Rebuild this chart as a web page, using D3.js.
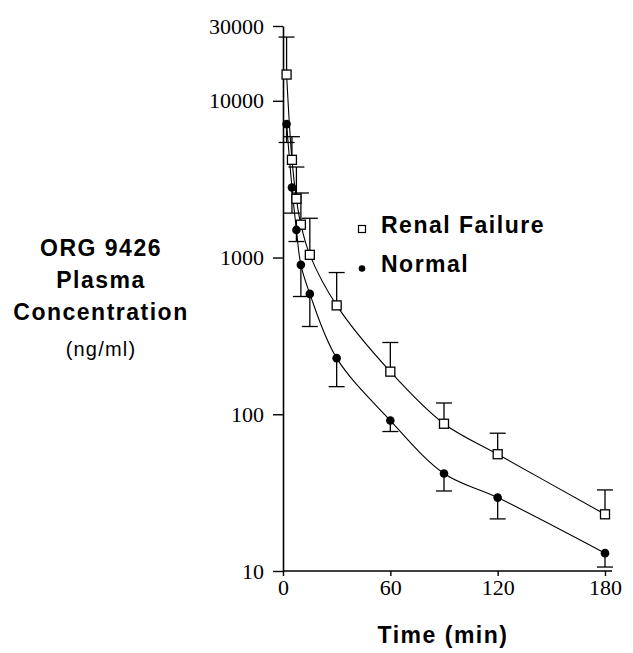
<!DOCTYPE html>
<html lang="en">
	<head>
		<meta charset="UTF-8" />
		<script src="https://d3js.org/d3.v7.min.js"></script>
		<title>ORG 9426</title>
		<style>
			body { margin: 0; background: #fff; }
			.sans { font-family: "Liberation Sans", Arial, sans-serif; font-weight: bold; font-size: 23px; letter-spacing: 1.5px; }
			.tick text { font-family: "Liberation Serif", "Times New Roman", serif; font-size: 22px; fill: #000; }
		</style>
	</head>
	<body>
		<svg width="633" height="653"></svg>
		<script>
			// sampling times (min)
			const times = [2, 5, 7.5, 10, 15, 30, 60, 90, 120, 180];
			// renal failure: mean and mean + SD (ng/ml)
			const renalMean = [14700, 4200, 2370, 1620, 1040, 495, 187, 87, 55.6, 23.0];
			const renalUpper = [25500, 5900, 3780, 2580, 1780, 802, 287, 118, 75.7, 32.9];
			// normal: mean and mean - SD (ng/ml)
			const normalMean = [7100, 2800, 1500, 898, 586, 228, 91.2, 41.9, 29.4, 13.0];
			const normalLower = [5420, 1920, 1265, 564, 363, 150, 77.6, 32.4, 21.5, 10.6];

			const xTicks = [0, 60, 120, 180];
			const yTicks = [10, 100, 1000, 10000, 30000];

			const x = d3.scaleLinear().domain([0, 180]).range([283, 605]);
			const y = d3.scaleLog().domain([10, 30000]).range([571, 26]);

			const svg = d3.select("svg");

			// axes
			svg.append("g")
				.attr("transform", "translate(283,0)")
				.call(d3.axisLeft(y).tickValues(yTicks).tickSize(10).tickSizeOuter(0).tickPadding(9).tickFormat(d3.format("d")))
				.call(g => g.select(".domain").attr("stroke-width", 1.6))
				.call(g => g.selectAll(".tick line").attr("stroke-width", 1.4));

			svg.append("g")
				.attr("transform", "translate(0,571)")
				.call(d3.axisBottom(x).tickValues(xTicks).tickSize(5).tickSizeOuter(0).tickPadding(3))
				.call(g => g.select(".domain").remove())
				.call(g => g.selectAll(".tick line").attr("stroke-width", 1.4));

			svg.append("line")
				.attr("x1", 283).attr("x2", 612)
				.attr("y1", 571).attr("y2", 571)
				.attr("stroke", "#000").attr("stroke-width", 1.6);

			const line = d3.line()
				.x(d => x(d[0]))
				.y(d => y(d[1]))
				.curve(d3.curveCatmullRom.alpha(0.5));

			const renal = times.map((t, i) => [t, renalMean[i], renalUpper[i]]);
			const normal = times.map((t, i) => [t, normalMean[i], normalLower[i]]);

			[renal, normal].forEach(s => {
				svg.append("path")
					.datum(s)
					.attr("d", line)
					.attr("fill", "none")
					.attr("stroke", "#000")
					.attr("stroke-width", 1.1);
			});

			// error bars
			const cap = 8;
			[renal, normal].forEach(s => {
				const g = svg.append("g").attr("stroke", "#000").attr("stroke-width", 1.3);
				g.selectAll(".bar").data(s).enter().append("line")
					.attr("x1", d => x(d[0])).attr("x2", d => x(d[0]))
					.attr("y1", d => y(d[1])).attr("y2", d => y(d[2]));
				g.selectAll(".cap").data(s).enter().append("line")
					.attr("x1", d => x(d[0]) - cap).attr("x2", d => x(d[0]) + cap)
					.attr("y1", d => y(d[2])).attr("y2", d => y(d[2]));
			});

			// markers
			svg.selectAll(".sq").data(renal).enter().append("rect")
				.attr("x", d => x(d[0]) - 4.5)
				.attr("y", d => y(d[1]) - 4.5)
				.attr("width", 9).attr("height", 9)
				.attr("fill", "#fff").attr("stroke", "#000").attr("stroke-width", 1.3);

			svg.selectAll(".dot").data(normal).enter().append("circle")
				.attr("cx", d => x(d[0]))
				.attr("cy", d => y(d[1]))
				.attr("r", 4.3)
				.attr("fill", "#000");

			// legend
			svg.append("rect")
				.attr("x", 358.5).attr("y", 225.5).attr("width", 7).attr("height", 7)
				.attr("fill", "#fff").attr("stroke", "#000").attr("stroke-width", 1.2);
			svg.append("text").attr("class", "sans").attr("x", 381).attr("y", 233).text("Renal Failure");
			svg.append("circle").attr("cx", 362).attr("cy", 268.5).attr("r", 3.3).attr("fill", "#000");
			svg.append("text").attr("class", "sans").attr("x", 381).attr("y", 272).text("Normal");

			// axis titles
			const yTitle = ["ORG 9426", "Plasma", "Concentration"];
			svg.selectAll(".yt").data(yTitle).enter().append("text")
				.attr("class", "sans")
				.attr("x", 101)
				.attr("y", (d, i) => 256 + i * 32)
				.attr("text-anchor", "middle")
				.text(d => d);
			svg.append("text")
				.attr("x", 101).attr("y", 356)
				.attr("text-anchor", "middle")
				.style("font-family", "Liberation Sans, Arial, sans-serif")
				.style("font-size", "20px")
				.style("letter-spacing", "1.2px")
				.text("(ng/ml)");

			svg.append("text")
				.attr("class", "sans")
				.attr("x", 443).attr("y", 643)
				.attr("text-anchor", "middle")
				.text("Time (min)");
		</script>
	</body>
</html>
